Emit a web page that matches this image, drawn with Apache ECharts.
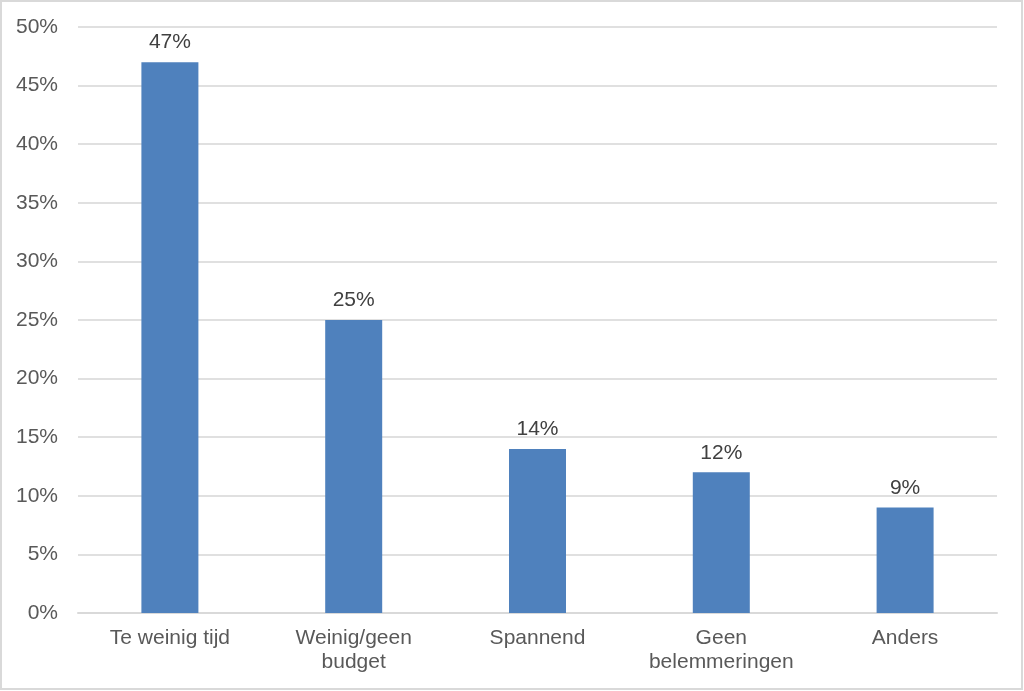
<!DOCTYPE html>
<html><head><meta charset="utf-8">
<script src="https://cdn.jsdelivr.net/npm/echarts@6/dist/echarts.min.js"></script>
<style>html,body{margin:0;padding:0;background:#fff}#c{width:1024px;height:691px}</style>
</head><body><div id="c"></div>
<script>
const categories = ['Te weinig tijd', 'Weinig/geen\nbudget', 'Spannend', 'Geen\nbelemmeringen', 'Anders'];
const values = [47, 25, 14, 12, 9];
const yTicks = [0, 5, 10, 15, 20, 25, 30, 35, 40, 45, 50];

const chart = echarts.init(document.getElementById('c'), null, {renderer: 'canvas'});
const font = '"Liberation Sans", Arial, sans-serif';
chart.setOption({
  animation: false,
  graphic: [{type: 'rect', shape: {x: 1, y: 1, width: 1021, height: 688}, style: {fill: 'none', stroke: '#d9d9d9', lineWidth: 2}, silent: true}],
  grid: {left: 78, right: 27, top: 27, bottom: 78},
  xAxis: {
    type: 'category', data: categories,
    axisLine: {lineStyle: {color: '#d9d9d9', width: 2}},
    axisTick: {show: false},
    axisLabel: {color: '#595959', fontSize: 21, fontFamily: font, margin: 13, lineHeight: 24, interval: 0}
  },
  yAxis: {
    type: 'value', min: yTicks[0], max: yTicks[yTicks.length - 1], interval: 5,
    axisLine: {show: false}, axisTick: {show: false},
    splitLine: {lineStyle: {color: '#e0e0e0', width: 2}},
    axisLabel: {color: '#595959', fontSize: 21, fontFamily: font, margin: 20, formatter: v => v + '%'}
  },
  series: [{
    type: 'bar', data: values, barWidth: 57,
    itemStyle: {color: '#4f81bd'},
    label: {show: true, position: 'top', distance: 9, color: '#404040', fontSize: 21, fontFamily: font, formatter: p => p.value + '%'}
  }]
});
</script></body></html>
